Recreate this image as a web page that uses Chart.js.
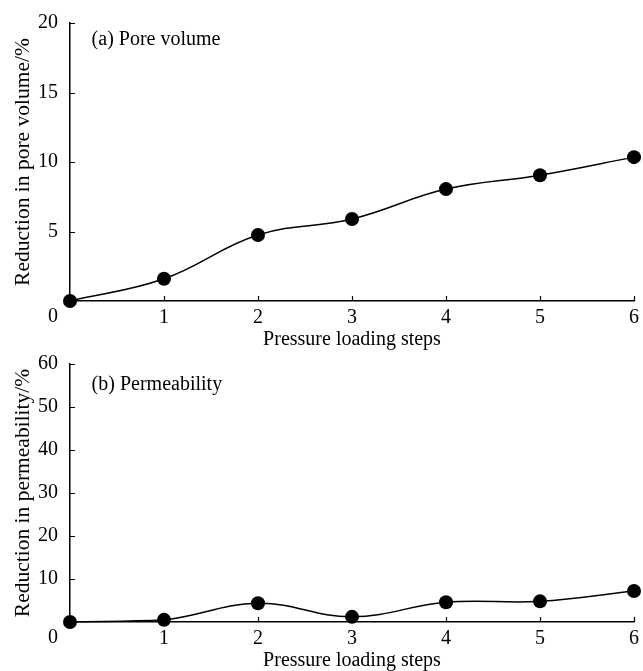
<!DOCTYPE html>
<html>
<head>
<meta charset="utf-8">
<script src="https://cdn.jsdelivr.net/npm/chart.js@4"></script>
<style>
  html, body { margin: 0; padding: 0; background: #fff; }
  .box { position: relative; width: 643px; }
  #top { height: 350px; }
  #bottom { height: 321px; }
</style>
</head>
<body>
<div class="box" id="top"><canvas id="chartA"></canvas></div>
<div class="box" id="bottom"><canvas id="chartB"></canvas></div>
<script>
// data
const steps = [0, 1, 2, 3, 4, 5, 6];
const poreVolume = [0, 1.6, 4.75, 5.9, 8.05, 9.05, 10.35];
const permeability = [0, 0.5, 4.35, 1.2, 4.6, 4.8, 7.2];
const xTitle = "Pressure loading steps";

const FONT = "'Liberation Serif', 'Times New Roman', serif";

// inward tick marks + the shared "0" at the origin + panel label
const decor = {
  id: "decor",
  afterDraw(chart) {
    const { ctx, scales: { x, y } } = chart;
    const o = chart.options.plugins.decor;
    ctx.save();
    ctx.strokeStyle = "#000";
    ctx.lineWidth = 1.2;
    ctx.beginPath();
    x.ticks.forEach(t => {
      if (t.value === 0) return;
      const px = Math.round(x.getPixelForValue(t.value)) + 0.5;
      ctx.moveTo(px, y.bottom);
      ctx.lineTo(px, y.bottom - 5);
    });
    y.ticks.forEach(t => {
      if (t.value === 0) return;
      const py = Math.round(y.getPixelForValue(t.value)) + 0.5;
      ctx.moveTo(x.left, py);
      ctx.lineTo(x.left + 5, py);
    });
    ctx.stroke();

    ctx.fillStyle = "#000";
    ctx.font = "20px " + FONT;
    ctx.textAlign = "right";
    ctx.textBaseline = "middle";
    ctx.fillText("0", y.right - 12, y.bottom + 16);

    ctx.textAlign = "left";
    ctx.fillText(o.label, x.getPixelForValue(o.lx), y.getPixelForValue(o.ly));
    ctx.restore();
  }
};

function makeChart(id, values, yMax, yStep, yTitle, label, ly, padTop, xHeight) {
  return new Chart(document.getElementById(id), {
    type: "line",
    data: {
      datasets: [{
        data: steps.map((s, i) => ({ x: s, y: values[i] })),
        borderColor: "#000",
        borderWidth: 1.5,
        backgroundColor: "#000",
        pointBackgroundColor: "#000",
        pointBorderWidth: 0,
        pointRadius: 7,
        tension: 0.4,
        clip: false
      }]
    },
    options: {
      responsive: true,
      maintainAspectRatio: false,
      animation: false,
      layout: { padding: { top: padTop, right: 9, left: 0, bottom: 0 } },
      plugins: {
        legend: { display: false },
        tooltip: { enabled: false },
        decor: { label: label, lx: 0.23, ly: ly }
      },
      scales: {
        x: {
          type: "linear",
          min: 0, max: 6,
          afterFit: s => { s.height = xHeight; s.paddingLeft = 0; s.paddingRight = 0; },
          grid: { display: false, drawTicks: false },
          border: { display: true, color: "#000", width: 1.5 },
          ticks: {
            stepSize: 1,
            padding: 5,
            color: "#000",
            font: { family: FONT, size: 20 },
            callback: v => (v === 0 ? "" : v)
          },
          title: {
            display: true,
            text: xTitle,
            color: "#000",
            font: { family: FONT, size: 20, lineHeight: 1 },
            padding: { top: 0, bottom: 0 }
          }
        },
        y: {
          min: 0, max: yMax,
          afterFit: s => { s.width = 70; s.paddingTop = 0; s.paddingBottom = 0; },
          grid: { display: false, drawTicks: false },
          border: { display: true, color: "#000", width: 1.5 },
          ticks: {
            stepSize: yStep,
            padding: 12,
            color: "#000",
            font: { family: FONT, size: 20 },
            callback: v => (v === 0 ? "" : v)
          },
          title: {
            display: true,
            text: yTitle,
            color: "#000",
            font: { family: FONT, size: 21.5, lineHeight: 1.2 },
            padding: { top: 10, bottom: 0 }
          }
        }
      }
    },
    plugins: [decor]
  });
}

makeChart("chartA", poreVolume, 20, 5, "Reduction in pore volume/%", "(a) Pore volume", 18.8, 23, 49);
makeChart("chartB", permeability, 60, 10, "Reduction in permeability/%", "(b) Permeability", 55.1, 14, 49);
</script>
</body>
</html>
